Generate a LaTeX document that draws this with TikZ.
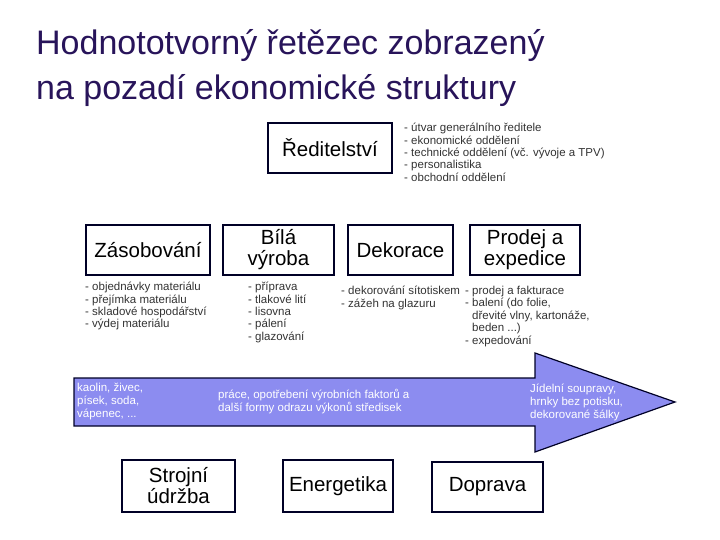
\documentclass[tikz,border=0pt]{standalone}
\usepackage{fontspec}
\setmainfont{Liberation Sans}
\begin{document}
\begin{tikzpicture}[x=1pt,y=-1pt,
  box/.style={draw=black!85!blue,line width=1.2pt,fill=white,inner sep=0pt,align=center,font=\fontsize{20.5}{21}\selectfont},
  lst/.style={anchor=north west,align=left,inner sep=0pt,font=\fontsize{11.5}{12.4}\selectfont,text=black!80},
  arr/.style={anchor=west,align=left,inner sep=0pt,font=\fontsize{11.5}{13}\selectfont,text=white}]
\useasboundingbox (0,0) rectangle (720,540);
\node[anchor=west,inner sep=0pt,align=left,text={rgb,255:red,40;green,20;blue,90},font=\fontsize{34}{45}\selectfont] (title) at (36,68) {Hodnototvorný řetězec zobrazený\\na pozadí ekonomické struktury};
\node[box,minimum width=124,minimum height=50] (red) at (330,148) {Ředitelství};
\node[lst] (redl) at (404,123) {- útvar generálního ředitele\\- ekonomické oddělení\\- technické oddělení (vč. vývoje a TPV)\\- personalistika\\- obchodní oddělení};
\node[box,minimum width=124,minimum height=50] (zas) at (148,250) {Zásobování};
\node[box,minimum width=111,minimum height=50] (bil) at (278.5,250) {Bílá\\výroba};
\node[box,minimum width=105,minimum height=50] (dek) at (400.5,250) {Dekorace};
\node[box,minimum width=110,minimum height=50] (pro) at (525,250) {Prodej a\\expedice};
\node[lst] (zasl) at (85,282) {- objednávky materiálu\\- přejímka materiálu\\- skladové hospodářství\\- výdej materiálu};
\node[lst] (bill) at (248,282) {- příprava\\- tlakové lití\\- lisovna\\- pálení\\- glazování};
\node[lst] (dekl) at (341,286) {- dekorování sítotiskem\\- zážeh na glazuru};
\node[lst] (prol) at (465,286) {- prodej a fakturace\\- balení (do folie,\\\phantom{- }dřevité vlny, kartonáže,\\\phantom{- }beden ...)\\- expedování};
\draw[draw=black!85!blue,line width=1.2pt,fill={rgb,255:red,140;green,140;blue,240}]
  (74,378) -- (535,378) -- (535,353) -- (675,402) -- (535,452) -- (535,426) -- (74,426) -- cycle;
\node[arr] (a1) at (77,402) {kaolin, živec,\\písek, soda,\\vápenec, ...};
\node[arr] (a2) at (218,402) {práce, opotřebení výrobních faktorů a\\další formy odrazu výkonů středisek};
\node[arr] (a3) at (530,402) {Jídelní soupravy,\\hrnky bez potisku,\\dekorované šálky};
\node[box,minimum width=113,minimum height=52] (str) at (178.5,486) {Strojní\\údržba};
\node[box,minimum width=110,minimum height=52] (ene) at (338,486) {Energetika};
\node[box,minimum width=111,minimum height=50] (dop) at (487.5,487) {Doprava};
\end{tikzpicture}
\end{document}
